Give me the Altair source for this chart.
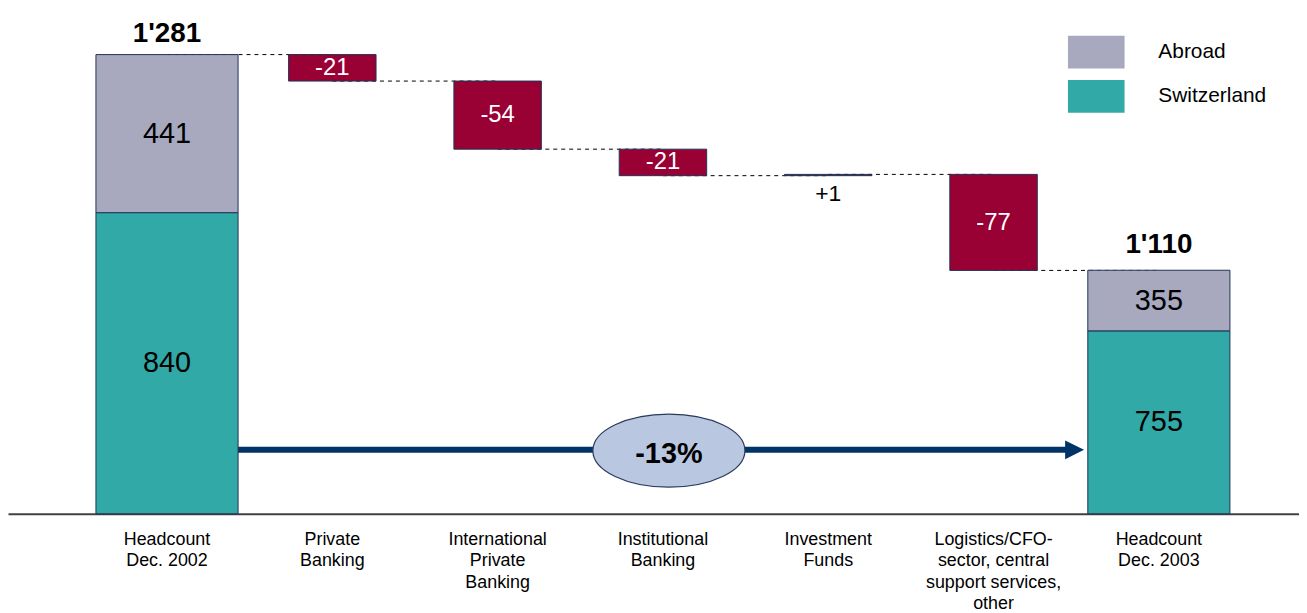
import altair as alt
import pandas as pd

# ---------------- data ----------------
CATS = [
    "Headcount|Dec. 2002",
    "Private|Banking",
    "International|Private|Banking",
    "Institutional|Banking",
    "Investment|Funds",
    "Logistics/CFO-|sector, central|support services,|other",
    "Headcount|Dec. 2003",
]
SEGMENTS = ["Abroad", "Switzerland"]
START_VALUES = {"Switzerland": 840, "Abroad": 441}
END_VALUES = {"Switzerland": 755, "Abroad": 355}
DELTAS = [-21, -54, -21, 1, -77]
DELTA_LABELS = ["-21", "-54", "-21", "+1", "-77"]
TOTAL_LABELS = ["1'281", "1'110"]
CHANGE_LABEL = "-13%"

# ---------------- style ----------------
FONT = "Liberation Sans"
GRAY = "#A8A8BF"
TEAL = "#31A9A6"
RED = "#990033"
NAVY = "#003366"
EDGE = "#1F3358"
ELL_FILL = "#B9C8E0"


def stack_table(cat, values, total_label):
    rows = []
    lo = 0
    for seg in ["Switzerland", "Abroad"]:
        v = values[seg]
        rows.append(dict(cat=cat, seg=seg, lo=lo, hi=lo + v, mid=lo + v / 2, label=str(v),
                         total=sum(values.values()), total_label=total_label))
        lo += v
    return pd.DataFrame(rows)


first_df = stack_table(CATS[0], START_VALUES, TOTAL_LABELS[0])
last_df = stack_table(CATS[-1], END_VALUES, TOTAL_LABELS[1])
start_total = sum(START_VALUES.values())

rows = []
conn = []
level = start_total
conn.append(dict(cat=CATS[0], cat2=CATS[1], level=level))
for i, (d, lab) in enumerate(zip(DELTAS, DELTA_LABELS)):
    new = level + d
    rows.append(dict(cat=CATS[i + 1], lo=min(level, new), hi=max(level, new),
                     mid=(level + new) / 2, label=lab, pos=d > 0))
    conn.append(dict(cat=CATS[i + 1], cat2=CATS[i + 2], level=new))
    level = new
delta_df = pd.DataFrame(rows)
conn_df = pd.DataFrame(conn)
neg_df = delta_df[~delta_df["pos"]]
pos_df = delta_df[delta_df["pos"]]
first_tot = first_df.iloc[[0]]
last_tot = last_df.iloc[[0]]
anno_df = pd.DataFrame([dict(cat=CATS[0], cat2=CATS[-1], mid=CATS[3], end=CATS[-1], label=CHANGE_LABEL)])

# ---------------- scales / encodings ----------------
W, H = 1299, 507
xscale = alt.Scale(type="band", domain=CATS, paddingInner=0, paddingOuter=0.4048, align=0.5705)
xaxis = alt.Axis(
    title=None, labelExpr="split(datum.label, '|')", labelFont=FONT, labelFontSize=18,
    labelColor="black", labelLineHeight=21.5, labelPadding=17, labelAngle=0,
    ticks=False, domainColor="#404040", domainWidth=2, labelOverlap=False, labelLimit=0,
    grid=False,
)
X = alt.X("cat:N", scale=xscale, axis=xaxis)

main_y = alt.Scale(domain=[0, 755, 1110, 1281], range=[H, 323, 262, 45], nice=False, zero=False)
first_y = alt.Scale(domain=[0, 1281], range=[H, 45], nice=False, zero=False)

RECT = "M -1.78 -1.03 L 1.78 -1.03 L 1.78 1.03 L -1.78 1.03 Z"
legend = alt.Legend(
    title=None, orient="none", legendX=1079, legendY=26.5, direction="vertical",
    symbolType=RECT, symbolSize=1024, symbolStrokeWidth=0, symbolOpacity=1,
    labelFont=FONT, labelFontSize=21, labelColor="black", labelOffset=46.5,
    rowPadding=10.5, padding=0,
)
COLOR = alt.Color("seg:N", scale=alt.Scale(domain=SEGMENTS, range=[GRAY, TEAL]), legend=legend)

# ---------------- group B (waterfall + end bar) ----------------
connectors = alt.Chart(conn_df).mark_rule(color="black", strokeWidth=1, strokeDash=[4, 4]).encode(
    x=X, x2="cat2:N", y=alt.Y("level:Q", scale=main_y, axis=None)
)
red_bars = alt.Chart(delta_df).mark_bar(width=88, color=RED, stroke=EDGE, strokeWidth=1).encode(
    x=X, y=alt.Y("lo:Q", scale=main_y, axis=None), y2="hi:Q"
)
end_bar = alt.Chart(last_df).mark_bar(width=143, stroke=EDGE, strokeWidth=1).encode(
    x=X, y=alt.Y("lo:Q", scale=main_y, axis=None), y2="hi:Q", color=COLOR
)
neg_text = alt.Chart(neg_df).mark_text(font=FONT, fontSize=24, color="white", baseline="middle").encode(
    x=X, y=alt.Y("mid:Q", scale=main_y, axis=None), text="label:N"
)
pos_text = alt.Chart(pos_df).mark_text(font=FONT, fontSize=23, color="black", baseline="middle", dy=19).encode(
    x=X, y=alt.Y("lo:Q", scale=main_y, axis=None), text="label:N"
)
end_text = alt.Chart(last_df).mark_text(font=FONT, fontSize=29, color="black", baseline="middle").encode(
    x=X, y=alt.Y("mid:Q", scale=main_y, axis=None), text="label:N"
)
end_total_text = alt.Chart(last_tot).mark_text(font=FONT, fontSize=28, fontWeight="bold", color="black",
                                               baseline="middle", dy=-25).encode(
    x=X, y=alt.Y("total:Q", scale=main_y, axis=None), text="total_label:N"
)
arrow = alt.Chart(anno_df).mark_rule(color=NAVY, strokeWidth=6, xOffset=71.5, x2Offset=-90).encode(
    x=X, x2="cat2:N", y=alt.value(442.7)
)
arrow_head = alt.Chart(anno_df).mark_point(shape="M -1 -1 L 1 0 L -1 1 Z", size=361, filled=True,
                                           color=NAVY, opacity=1, xOffset=-84.8).encode(
    x=alt.X("end:N", scale=xscale, axis=xaxis), y=alt.value(442.7)
)
ellipse = alt.Chart(anno_df).mark_point(
    shape="M -1 0 A 1 0.48 0 1 1 1 0 A 1 0.48 0 1 1 -1 0 Z", size=153 * 153, filled=True,
    fill=ELL_FILL, stroke="#2A3A5C", strokeWidth=1.2, opacity=1, fillOpacity=1, xOffset=6,
).encode(x=alt.X("mid:N", scale=xscale, axis=xaxis), y=alt.value(443.5))
ell_text = alt.Chart(anno_df).mark_text(font=FONT, fontSize=29, fontWeight="bold", color="black",
                                        baseline="middle", xOffset=0, dx=6).encode(
    x=alt.X("mid:N", scale=xscale, axis=xaxis), y=alt.value(447), text="label:N"
)

groupB = alt.layer(connectors, red_bars, end_bar, neg_text, pos_text, end_text, end_total_text,
                   arrow, arrow_head, ellipse, ell_text)

# ---------------- group A (start bar, own scale) ----------------
start_bar = alt.Chart(first_df).mark_bar(width=143, stroke=EDGE, strokeWidth=1).encode(
    x=X, y=alt.Y("lo:Q", scale=first_y, axis=None), y2="hi:Q", color=COLOR
)
start_text = alt.Chart(first_df).mark_text(font=FONT, fontSize=29, color="black", baseline="middle").encode(
    x=X, y=alt.Y("mid:Q", scale=first_y, axis=None), text="label:N"
)
start_total_text = alt.Chart(first_tot).mark_text(font=FONT, fontSize=28, fontWeight="bold", color="black",
                                                  baseline="middle", dy=-21).encode(
    x=X, y=alt.Y("total:Q", scale=first_y, axis=None), text="total_label:N"
)
groupA = alt.layer(start_bar, start_text, start_total_text)

chart = (
    alt.layer(groupB, groupA)
    .resolve_scale(y="independent")
    .properties(width=W, height=H, autosize="none",
                padding={"left": 0, "top": 0, "right": 0, "bottom": 97})
    .configure_view(stroke=None)
)

chart.save("out.html", embed_options={"renderer": "svg", "actions": False})
